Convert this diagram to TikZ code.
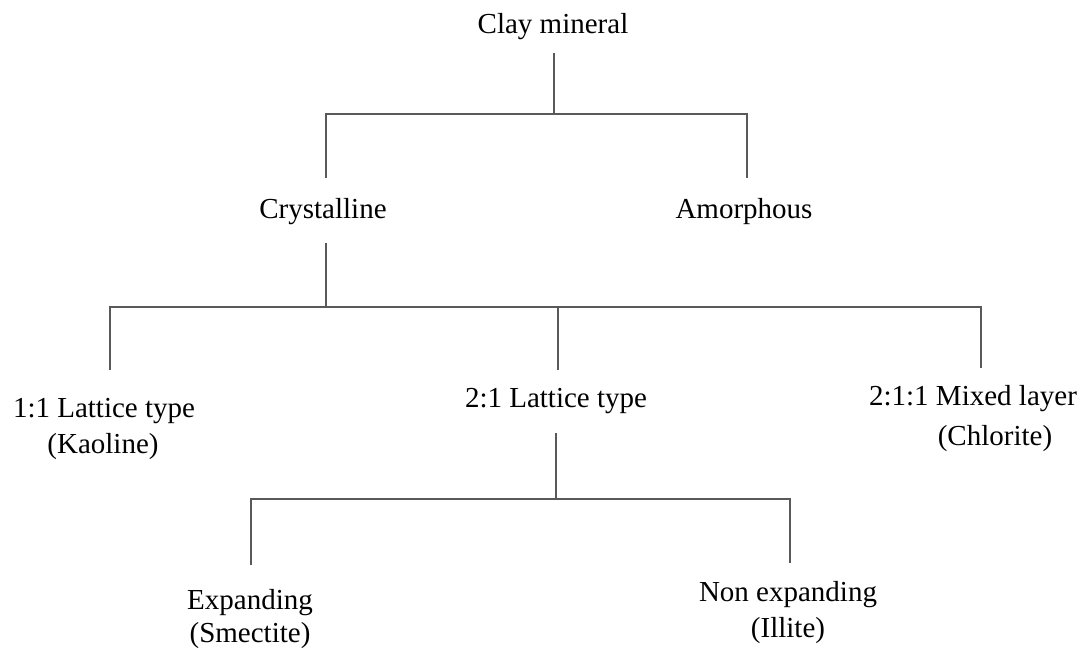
\documentclass[tikz,border=0pt]{standalone}
\usepackage{fontspec}
\setmainfont{Liberation Serif}
\begin{document}
\begin{tikzpicture}[x=1pt,y=-1pt,
  lbl/.style={anchor=base,inner sep=0pt,font=\fontsize{29}{35}\selectfont,text=black},
  conn/.style={draw=black!65,line width=1.6pt}]
\useasboundingbox[fill=white] (0,0) rectangle (1092,649);
% labels
\node[lbl] (clay) at (553,33) {Clay mineral};
\node[lbl] (cry) at (323,218) {Crystalline};
\node[lbl] (amo) at (744,218) {Amorphous};
\node[lbl] (one) at (104,417) {1:1 Lattice type};
\node[lbl] (oneb) at (103,453) {(Kaoline)};
\node[lbl] (two) at (556,407) {2:1 Lattice type};
\node[lbl] (mix) at (973,405) {2:1:1 Mixed layer};
\node[lbl] (mixb) at (995,445) {(Chlorite)};
\node[lbl] (exp) at (250,609) {Expanding};
\node[lbl] (expb) at (250,642) {(Smectite)};
\node[lbl] (non) at (788,601) {Non expanding};
\node[lbl] (nonb) at (788,637) {(Illite)};
% connector ends
\coordinate (clayB) at (554,53);
\coordinate (busA) at (554,114);
\coordinate (busAL) at (326,114);
\coordinate (busAR) at (747,114);
\coordinate (cryT) at (326,178);
\coordinate (amoT) at (747,178);
\coordinate (cryB) at (326,243);
\coordinate (busB) at (326,307);
\coordinate (busBL) at (110,307);
\coordinate (busBM) at (558,307);
\coordinate (busBR) at (981,307);
\coordinate (oneT) at (110,370);
\coordinate (twoT) at (558,370);
\coordinate (mixT) at (981,368);
\coordinate (twoB) at (556,433);
\coordinate (busC) at (556,499);
\coordinate (busCL) at (251,499);
\coordinate (busCR) at (790,499);
\coordinate (expT) at (251,565);
\coordinate (nonT) at (790,563);
% connectors
\draw[conn] (clayB) -- (busA);
\draw[conn] (cryT) -- (busAL) -- (busAR) -- (amoT);
\draw[conn] (cryB) -- (busB);
\draw[conn] (oneT) -- (busBL) -- (busBR) -- (mixT);
\draw[conn] (busBM) -- (twoT);
\draw[conn] (twoB) -- (busC);
\draw[conn] (expT) -- (busCL) -- (busCR) -- (nonT);
\end{tikzpicture}
\end{document}
